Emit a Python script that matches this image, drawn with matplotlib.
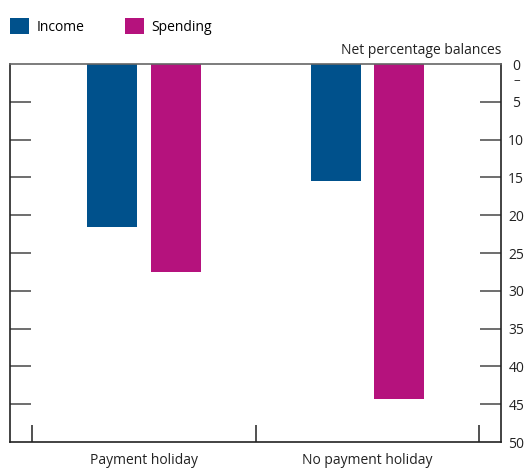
import matplotlib
matplotlib.use("Agg")
import matplotlib.pyplot as plt
import numpy as np

categories = ["Payment holiday", "No payment holiday"]
income = [-21.6, -15.5]
spending = [-27.5, -44.3]
ytick_vals = [0, -5, -10, -15, -20, -25, -30, -35, -40, -45, -50]
ytick_labels = ["0", "5", "10", "15", "20", "25", "30", "35", "40", "45", "50"]

blue = "#00518C"
pink = "#B5127D"
plt.rcParams["font.family"] = ["Open Sans", "DejaVu Sans"]
fs = 10

fig = plt.figure(figsize=(5.31, 4.73), dpi=100)
ax = fig.add_axes([10/531, 31/473, 491/531, 378/473])

x = np.arange(len(categories))
w = 0.223
ax.bar(x - 0.14, income, width=w, color=blue, label="Income")
ax.bar(x + 0.143, spending, width=w, color=pink, label="Spending")

ax.set_xlim(-0.598, 1.598)
ax.set_ylim(-50, 0)

ax.set_yticks(ytick_vals)
ax.set_yticklabels(ytick_labels)
ax.yaxis.set_ticks_position("both")
ax.tick_params(axis="y", direction="in", length=15, width=1.2, color="#555555",
               labelleft=False, labelright=True, labelsize=fs, pad=11, labelcolor="#222222")
for lab in ax.get_yticklabels():
    lab.set_horizontalalignment("center")
for t in ax.yaxis.get_major_ticks():
    if t.get_loc() in (0, -50):
        t.tick1line.set_visible(False)
        t.tick2line.set_visible(False)

ax.set_xticks([-0.5, 0.5, 1.5])
ax.set_xticklabels([])
ax.tick_params(axis="x", direction="in", length=12, width=1.2, color="#333333")
ax.set_xticks(x, minor=True)
ax.set_xticklabels(categories, minor=True)
ax.tick_params(axis="x", which="minor", length=0, pad=8, labelsize=fs, labelcolor="#222222")

for s in ax.spines.values():
    s.set_color("#222222")
    s.set_linewidth(1.2)
ax.spines["top"].set_color("#666666")

fig.text(517/531, 1 - 81/473, "–", ha="center", va="center", fontsize=9.5, color="#222222")
fig.text(501/531, 1 - 50/473, "Net percentage balances", ha="right", va="center",
         fontsize=fs, color="#222222")

ax.legend(loc="upper left", bbox_to_anchor=(10/531, 1 - 18/473), bbox_transform=fig.transFigure,
          ncol=2, frameon=False, fontsize=fs, handlelength=1.4, handleheight=1.4,
          handletextpad=0.5, columnspacing=2.9, borderaxespad=0, borderpad=0)

fig.savefig("out.png", dpi=100)
